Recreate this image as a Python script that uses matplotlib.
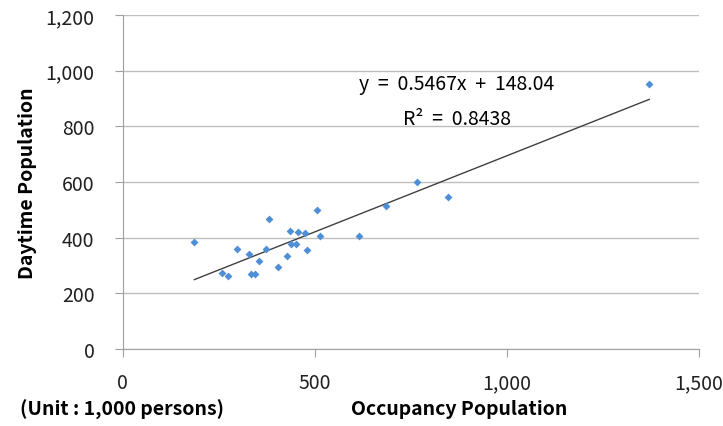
import numpy as np
import matplotlib.pyplot as plt
from matplotlib.ticker import FuncFormatter

plt.rcParams['font.family'] = ['Noto Sans CJK KR', 'DejaVu Sans']

# Occupancy (x) vs daytime (y) population, unit: 1,000 persons
occupancy = [186, 379, 504, 434, 457, 473, 513, 614, 298, 372, 437, 450, 478,
             327, 428, 355, 405, 259, 273, 334, 344, 684, 766, 847, 1370]
daytime = [385, 468, 500, 425, 421, 418, 406, 406, 360, 360, 377, 377, 357,
           342, 334, 317, 296, 274, 263, 270, 270, 515, 601, 547, 951]
slope = 0.5467
intercept = 148.04
r2 = 0.8438

fig = plt.figure(figsize=(7.23, 4.27), dpi=100)
ax = fig.add_axes([0.170, 0.18, 0.797, 0.7825])

ax.scatter(occupancy, daytime, marker='D', s=16, color='#4F8FD6', zorder=3, linewidths=0)
xs = np.array([min(occupancy), max(occupancy)])
ax.plot(xs, slope * xs + intercept, color='#404040', lw=1, zorder=2)

ax.set_xlim(0, 1500)
ax.set_ylim(0, 1200)
ax.set_xticks([0, 500, 1000, 1500])
ax.set_yticks(range(0, 1201, 200))
fmt = FuncFormatter(lambda v, p: f'{int(v):,}')
ax.xaxis.set_major_formatter(fmt)
ax.yaxis.set_major_formatter(fmt)
ax.tick_params(labelsize=14, colors='#202020', length=5.5, color='#A0A0A0')
ax.tick_params(axis='x', pad=11)
ax.tick_params(axis='y', pad=15)
ax.grid(axis='y', color='#BEBEBE', lw=1)
ax.set_axisbelow(True)
for s in ['top', 'right']:
    ax.spines[s].set_visible(False)
for s in ['left', 'bottom']:
    ax.spines[s].set_color('#A0A0A0')

ax.set_ylabel('Daytime Population', fontsize=14, fontweight='bold', labelpad=6)
ax.set_xlabel('Occupancy Population', fontsize=14, fontweight='bold', labelpad=4, x=0.583)
fig.text(0.027, 0.025, '(Unit : 1,000 persons)', fontsize=14, fontweight='bold')

ax.text(0.58, 0.795, f'y  =  {slope}x  +  {intercept}', transform=ax.transAxes,
        fontsize=14, ha='center', va='center')
ax.text(0.58, 0.69, f'R²  =  {r2}', transform=ax.transAxes,
        fontsize=14, ha='center', va='center')

fig.savefig('out.png', dpi=100)
